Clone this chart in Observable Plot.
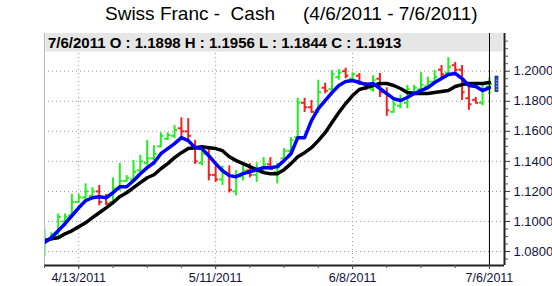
<!DOCTYPE html>
<html><head><meta charset="utf-8">
<script src="https://cdn.jsdelivr.net/npm/d3@7"></script>
<script src="https://cdn.jsdelivr.net/npm/@observablehq/plot@0.6"></script>
<style>
body{margin:0;background:#fff;font-family:Arial,"Liberation Sans",sans-serif;}
#wrap{position:relative;width:552px;height:286px;overflow:hidden;}
#title{position:relative;height:30px;font-size:19px;line-height:22px;color:#000;white-space:pre;}
#title span{position:absolute;top:3px;}
#hdr{position:absolute;top:33px;height:19px;background:#e6e6e6;font-weight:bold;font-size:15px;line-height:19px;padding-left:2px;box-sizing:border-box;white-space:pre;color:#000;border:1px solid #f2f2f2;border-top:none;}
#hdr .cross{position:absolute;top:0;width:1px;height:19px;background:#000;}
#chart svg{display:block;}
</style></head>
<body>
<div id="wrap">
  <div id="title"><span style="left:105px">Swiss Franc -  Cash</span><span style="left:303px">(4/6/2011 - 7/6/2011)</span></div>
  <div id="chart"></div>
  <div id="hdr"></div>
</div>
<script>
// ---- data ----
const opens  = [1.0820,1.0885,1.0900,1.1000,1.1040,1.1130,1.1160,1.1170,1.1200,1.1160,1.1130,1.1220,1.1270,1.1280,1.1340,1.1390,1.1420,1.1500,1.1550,1.1570,1.1620,1.1600,1.1500,1.1390,1.1450,1.1310,1.1280,1.1320,1.1200,1.1300,1.1340,1.1310,1.1340,1.1380,1.1330,1.1420,1.1470,1.1560,1.1790,1.1760,1.1740,1.1890,1.1880,1.1960,1.2000,1.1950,1.1970,1.1920,1.1880,1.1950,1.1860,1.1730,1.1770,1.1790,1.1860,1.1880,1.1900,1.1930,1.2010,1.1990,1.2040,1.2010,1.1820,1.1810,1.1790,1.1898];
const highs  = [1.0950,1.0925,1.1050,1.1050,1.1180,1.1180,1.1250,1.1225,1.1240,1.1180,1.1290,1.1385,1.1305,1.1405,1.1440,1.1538,1.1505,1.1590,1.1590,1.1638,1.1690,1.1685,1.1540,1.1470,1.1490,1.1370,1.1370,1.1370,1.1340,1.1370,1.1385,1.1390,1.1425,1.1425,1.1385,1.1485,1.1558,1.1820,1.1820,1.1805,1.1940,1.1920,1.2005,1.2010,1.2020,1.1990,1.1985,1.1925,1.1970,1.1985,1.1890,1.1820,1.1840,1.1905,1.1905,1.1990,1.1960,1.2005,1.2038,1.2090,1.2058,1.2038,1.1920,1.1825,1.1920,1.1956];
const lows   = [1.0770,1.0870,1.0890,1.0970,1.1020,1.1120,1.1140,1.1160,1.1105,1.1105,1.1110,1.1200,1.1260,1.1270,1.1325,1.1370,1.1405,1.1490,1.1538,1.1550,1.1558,1.1540,1.1380,1.1370,1.1270,1.1260,1.1240,1.1190,1.1170,1.1270,1.1290,1.1260,1.1320,1.1340,1.1250,1.1405,1.1450,1.1550,1.1725,1.1720,1.1720,1.1850,1.1870,1.1940,1.1950,1.1940,1.1905,1.1870,1.1860,1.1825,1.1700,1.1720,1.1750,1.1750,1.1840,1.1860,1.1890,1.1925,1.1958,1.1970,1.1985,1.1805,1.1740,1.1785,1.1770,1.1844];
const closes = [1.0885,1.0910,1.1030,1.1030,1.1130,1.1160,1.1200,1.1200,1.1130,1.1120,1.1220,1.1270,1.1290,1.1330,1.1400,1.1420,1.1450,1.1570,1.1575,1.1610,1.1600,1.1570,1.1400,1.1450,1.1310,1.1280,1.1320,1.1210,1.1300,1.1340,1.1310,1.1350,1.1380,1.1350,1.1360,1.1470,1.1540,1.1790,1.1760,1.1730,1.1860,1.1870,1.1980,1.1990,1.1970,1.1980,1.1920,1.1900,1.1940,1.1860,1.1740,1.1780,1.1800,1.1880,1.1890,1.1910,1.1930,1.1960,1.1980,1.2030,1.2010,1.1860,1.1780,1.1790,1.1880,1.1913];
const fastMA = [1.0860,1.0893,1.0938,1.0985,1.1038,1.1091,1.1138,1.1158,1.1165,1.1158,1.1191,1.1231,1.1231,1.1271,1.1318,1.1358,1.1391,1.1451,1.1485,1.1518,1.1558,1.1538,1.1491,1.1485,1.1438,1.1385,1.1338,1.1305,1.1298,1.1318,1.1331,1.1345,1.1358,1.1358,1.1365,1.1405,1.1451,1.1558,1.1558,1.1671,1.1751,1.1805,1.1858,1.1905,1.1931,1.1938,1.1925,1.1911,1.1918,1.1885,1.1851,1.1818,1.1805,1.1825,1.1851,1.1871,1.1891,1.1925,1.1951,1.1978,1.1985,1.1951,1.1905,1.1898,1.1871,1.1891];
const slowMA = [1.0871,1.0885,1.0891,1.0918,1.0938,1.0965,1.0991,1.1025,1.1058,1.1091,1.1125,1.1165,1.1191,1.1225,1.1258,1.1291,1.1311,1.1351,1.1385,1.1425,1.1458,1.1485,1.1491,1.1498,1.1491,1.1485,1.1471,1.1431,1.1405,1.1385,1.1365,1.1345,1.1325,1.1318,1.1318,1.1345,1.1385,1.1431,1.1458,1.1491,1.1538,1.1591,1.1658,1.1725,1.1785,1.1838,1.1878,1.1891,1.1905,1.1918,1.1918,1.1905,1.1885,1.1858,1.1851,1.1851,1.1851,1.1858,1.1865,1.1871,1.1898,1.1911,1.1918,1.1918,1.1918,1.1925];
const lastDate = "7/6/2011";
const xTickIdx = [5, 25, 45, 65];
const xTickLabels = ["4/13/2011", "5/11/2011", "6/8/2011", "7/6/2011"];
const weekIdx = [0,5,10,15,20,25,30,35,40,45,50,55,60,65];
const yTicks = [1.08, 1.10, 1.12, 1.14, 1.16, 1.18, 1.20];
const yMinor = [1.075,1.085,1.09,1.095,1.105,1.11,1.115,1.125,1.13,1.135,1.145,1.15,1.155,1.165,1.17,1.175,1.185,1.19,1.195,1.205,1.21,1.215,1.22];
const xDomain = [0, 67.2];
const yDomain = [1.0707, 1.2251];

// ---- build ----
const GREEN = "#22ee22", RED = "#f02222", LABEL = "#12123a";
const data = closes.map((c, i) => ({i, open: opens[i], high: highs[i], low: lows[i], close: c,
  col: c >= opens[i] ? GREEN : RED, fast: fastMA[i], slow: slowMA[i]}));
const last = data[data.length - 1];

const chart = Plot.plot({
  width: 552, height: 256,
  marginLeft: 44, marginRight: 48, marginTop: 3, marginBottom: 21,
  style: {fontFamily: 'Arial, "Liberation Sans", sans-serif', fontSize: "13px", color: "#000", background: "transparent", overflow: "visible"},
  x: {domain: xDomain, axis: null, label: null},
  y: {domain: yDomain, axis: null, label: null},
  marks: [
    Plot.gridY(yTicks, {stroke: "#9a9a9a", strokeOpacity: 1, strokeDasharray: "1,3"}),
    Plot.gridX(xTickIdx.slice(0, 3), {stroke: "#9a9a9a", strokeOpacity: 1, strokeDasharray: "1,3"}),
    Plot.ruleX(data, {x: "i", y1: "low", y2: "high", stroke: "col", strokeWidth: 2, clip: true}),
    Plot.ruleY(data, {y: "open", x1: d => d.i - 0.45, x2: "i", stroke: "col", strokeWidth: 2, clip: true}),
    Plot.ruleY(data, {y: "close", x1: "i", x2: d => d.i + 0.45, stroke: "col", strokeWidth: 2, clip: true}),
    Plot.line(data, {x: "i", y: "slow", stroke: "#000", strokeWidth: 3.5, clip: true}),
    Plot.line(data, {x: "i", y: "fast", stroke: "#0000ff", strokeWidth: 3.5, clip: true}),
    Plot.ruleX([last], {x: "i", stroke: "#000", strokeWidth: 1}),
    Plot.rect([last], {x1: d => d.i + 0.9, x2: d => d.i + 1.3, y1: d => d.close - 0.005, y2: d => d.close + 0.005, fill: "#2a4fe0", stroke: "#15235e", strokeWidth: 1}),
    Plot.ruleX([last], {x: d => d.i + 1.1, y1: d => d.close - 0.004, y2: d => d.close + 0.004, stroke: "#dfe6ff", strokeWidth: 1, strokeDasharray: "1,2"}),
    // frame lines
    Plot.ruleX([xDomain[0]], {stroke: "#b8b8b8", strokeWidth: 1}),
    Plot.ruleY([yDomain[0]], {stroke: "#222", strokeWidth: 2}),
    Plot.ruleX([xDomain[1]], {stroke: "#222", strokeWidth: 2}),
    // axes
    Plot.axisY(yTicks, {anchor: "right", label: null, tickSize: 5, tickPadding: 4, tickFormat: d => d.toFixed(4), fill: LABEL, stroke: "#333"}),
    Plot.axisY(yMinor, {anchor: "right", label: null, tickSize: 3, text: null, stroke: "#555"}),
    Plot.axisX(xTickIdx, {anchor: "bottom", label: null, tickSize: 4, tickPadding: 4, fontSize: 12.5, fill: LABEL, stroke: "#333",
      tickFormat: d => xTickLabels[xTickIdx.indexOf(d)]}),
    Plot.axisX(weekIdx, {anchor: "bottom", label: null, tickSize: 3, text: null, stroke: "#555"})
  ]
});
document.getElementById("chart").appendChild(chart);

// header box aligned with the plot's x scale
const sx = chart.scale("x");
const left = sx.apply(xDomain[0]) + 1, right = sx.apply(xDomain[1]) - 1;
const hdr = document.getElementById("hdr");
hdr.style.left = left + "px";
hdr.style.width = (right - left) + "px";
hdr.textContent = `${lastDate} O : ${last.open.toFixed(4)} H : ${last.high.toFixed(4)} L : ${last.low.toFixed(4)} C : ${last.close.toFixed(4)}`;
const cross = document.createElement("div");
cross.className = "cross";
cross.style.left = (sx.apply(last.i) - left - 0.5) + "px";
hdr.appendChild(cross);
</script>
</body></html>
